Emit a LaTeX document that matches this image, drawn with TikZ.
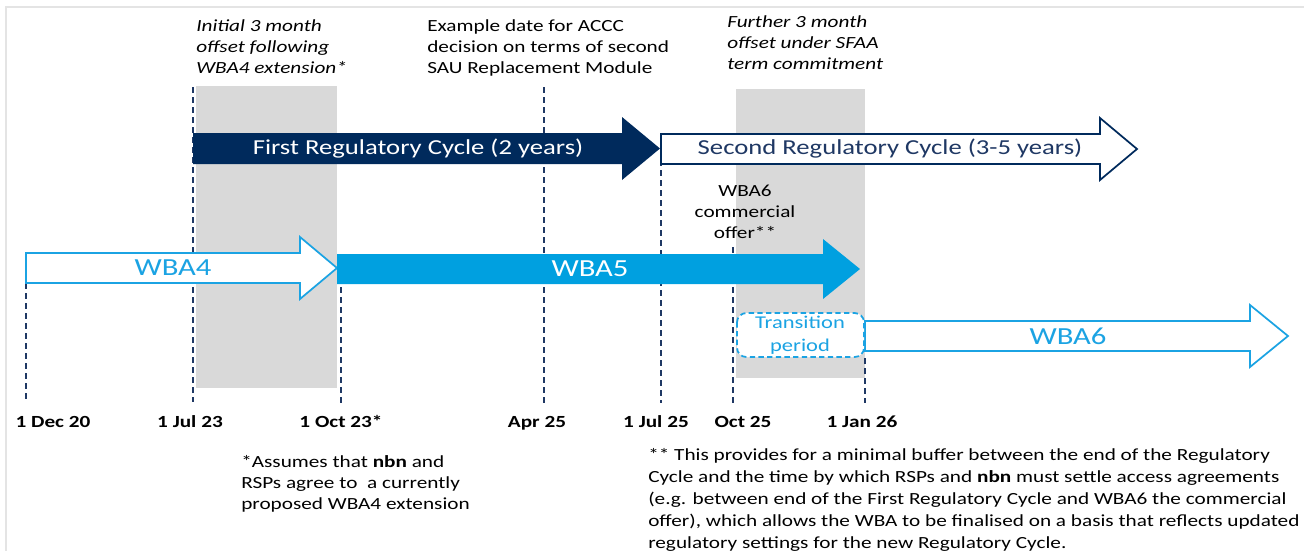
\documentclass[tikz,border=0pt]{standalone}
\usepackage{fontspec}
\setmainfont{Carlito}[FakeStretch=1.25]
\definecolor{navy}{HTML}{002A5C}
\definecolor{dashnavy}{HTML}{1F3864}
\definecolor{skyblue}{HTML}{00A0E0}
\definecolor{lineblue}{HTML}{1BA3E3}
\definecolor{shade}{HTML}{D9D9D9}
\definecolor{framegray}{HTML}{E4E4E4}
\tikzset{
  guide/.style={draw=dashnavy, line width=1.1pt, dash pattern=on 4.5pt off 3pt},
  offsetband/.style={fill=shade, draw=none},
  note/.style={inner sep=0pt, align=left, font=\fontsize{12.75}{15.75}\selectfont},
  itnote/.style={note, font=\fontsize{12.75}{15.75}\selectfont\itshape},
  datelabel/.style={inner sep=0pt, font=\fontsize{12.75}{15}\selectfont\bfseries},
  cycletext/.style={inner sep=0pt, font=\fontsize{16}{19}\selectfont},
  wbatext/.style={inner sep=0pt, font=\fontsize{18.4}{22}\selectfont},
}
\begin{document}
\begin{tikzpicture}[x=0.75pt, y=-0.75pt]
\useasboundingbox (0,0) rectangle (1304,551);
% outer frame
\draw[framegray, line width=1.5pt] (5.5,551) -- (5.5,6.5) -- (1304,6.5);

% grey offset bands
\fill[offsetband] (196,86) rectangle (337,388);
\fill[offsetband] (736,89) rectangle (865,378);

% dashed date guides
\draw[guide] (26,283) -- (26,403);
\draw[guide] (193,87) -- (193,402);
\draw[guide] (341,287) -- (341,403);
\draw[guide] (544,87) -- (544,403);
\draw[guide] (661,160) -- (661,403);
\draw[guide] (733,247) -- (733,403);
\draw[guide] (865,358) -- (865,403);

% regulatory cycle arrows
\fill[navy] (193,133) -- (622,133) -- (622,117) -- (660,148.5) -- (622,180) -- (622,164) -- (193,164) -- cycle;
\draw[navy, fill=white, line width=1.3pt] (661,134) -- (1100,134) -- (1100,118) -- (1137,149) -- (1100,180) -- (1100,164) -- (661,164) -- cycle;

% WBA arrows
\draw[lineblue, fill=white, line width=1.3pt] (26,253) -- (300,253) -- (300,237) -- (337,268) -- (300,299) -- (300,283) -- (26,283) -- cycle;
\fill[skyblue] (337,254) -- (823,254) -- (823,239) -- (860,269) -- (823,299) -- (823,284) -- (337,284) -- cycle;
\draw[lineblue, fill=white, line width=1.3pt] (865,321) -- (1250,321) -- (1250,305) -- (1288,336) -- (1250,367) -- (1250,351) -- (865,351) -- cycle;

% transition period box
\draw[lineblue, fill=white, line width=1.3pt, dash pattern=on 4pt off 2.5pt, rounded corners=7pt] (737,313) rectangle (864,357);

% arrow labels
\node[cycletext, text=white] (c1) at (418,149) {First Regulatory Cycle (2 years)};
\node[cycletext, text=dashnavy] (c2) at (890,149) {Second Regulatory Cycle (3-5 years)};
\node[wbatext, text=lineblue] (w4) at (173,268) {WBA4};
\node[wbatext, text=white] (w5) at (590,269) {WBA5};
\node[wbatext, text=lineblue] (w6) at (1068,336) {WBA6};
\node[inner sep=0pt, align=center, text=lineblue, font=\fontsize{13.5}{17.25}\selectfont] (tp) at (800,335) {Transition\\period};

% upper annotations (anchored at the baseline of their last line)
\node[itnote, anchor=base west] (n1) at (196,73) {Initial 3 month\\offset following\\WBA4 extension*};
\node[note, anchor=base west] (n2) at (427,73) {Example date for ACCC\\decision on terms of second\\SAU Replacement Module};
\node[itnote, anchor=base west] (n3) at (727,69) {Further 3 month\\offset under SFAA\\term commitment};
\node[note, align=center, anchor=base] (n4) at (745,238) {WBA6\\commercial\\offer**};

% date labels
\node[datelabel, anchor=base] (d1) at (53,427) {1 Dec 20};
\node[datelabel, anchor=base] (d2) at (190,427) {1 Jul 23};
\node[datelabel, anchor=base] (d3) at (341,427) {1 Oct 23*};
\node[datelabel, anchor=base] (d4) at (537,427) {Apr 25};
\node[datelabel, anchor=base] (d5) at (656,427) {1 Jul 25};
\node[datelabel, anchor=base] (d6) at (743,427) {Oct 25};
\node[datelabel, anchor=base] (d7) at (862,427) {1 Jan 26};

% footnotes
\node[note, anchor=base west] (f1) at (241,509) {*Assumes that \textbf{nbn} and\\RSPs agree to\ \ a currently\\proposed WBA4 extension};
\node[note, anchor=base west, font=\fontsize{12.75}{16.5}\selectfont] (f2) at (648,548) {** This provides for a minimal buffer between the end of the Regulatory\\Cycle and the time by which RSPs and \textbf{nbn} must settle access agreements\\(e.g. between end of the First Regulatory Cycle and WBA6 the commercial\\offer), which allows the WBA to be finalised on a basis that reflects updated\\regulatory settings for the new Regulatory Cycle.};
\end{tikzpicture}
\end{document}
